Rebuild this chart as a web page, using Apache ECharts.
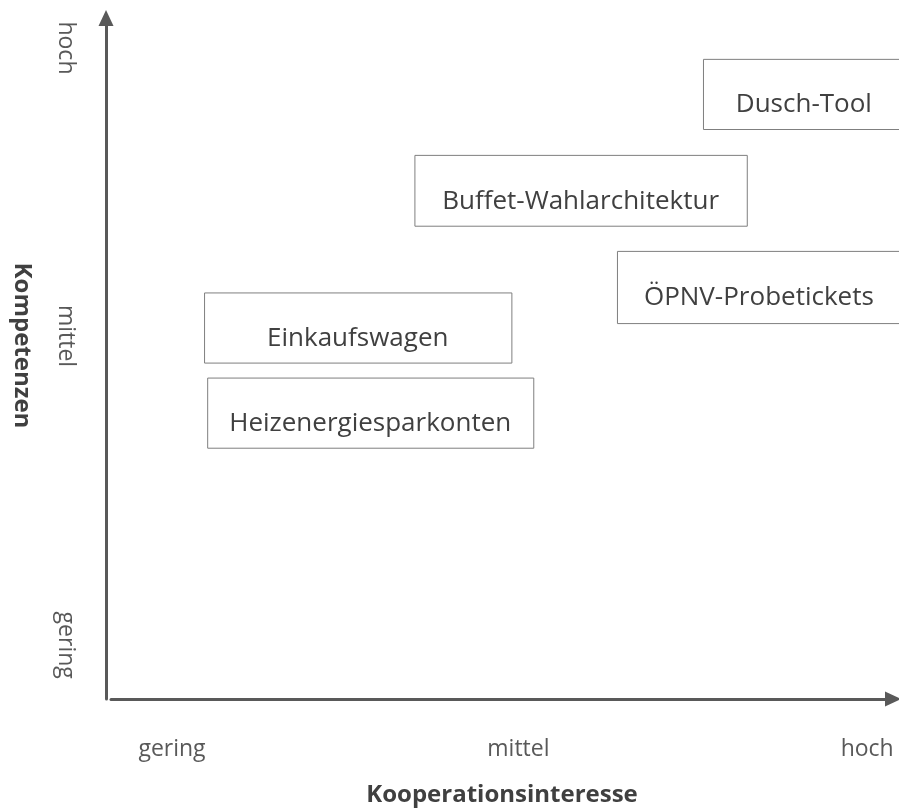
<!DOCTYPE html>
<html>
<head>
<meta charset="utf-8">
<script src="https://cdn.jsdelivr.net/npm/echarts@6/dist/echarts.min.js"></script>
<style>
  html, body { margin: 0; padding: 0; background: #fff; }
  #main { width: 899px; height: 812px; }
</style>
</head>
<body>
<div id="main"></div>
<script>
// measures (box labels) and where they sit in the matrix
const categories = ['Dusch-Tool', 'Buffet-Wahlarchitektur', 'ÖPNV-Probetickets', 'Einkaufswagen', 'Heizenergiesparkonten'];
const xStart = [75.7, 38.8, 64.7, 11.9, 12.3];
const xEnd = [101.5, 81.3, 101, 51.2, 54.0];
const yBottom = [83.7, 69.5, 55.2, 49.4, 36.9];
const yTop = [94.0, 79.9, 65.8, 59.7, 47.2];

// axis tick labels
const xTickLabels = ['gering', 'mittel', 'hoch'];
const xTickValues = [7.8, 52.1, 96.7];
const yTickLabels = ['gering', 'mittel', 'hoch'];
const yTickValues = [7.9, 53.3, 95.6];

let myChart = echarts.init(document.getElementById('main'));

let boxData = categories.map(function (name, i) {
  return [xStart[i], xEnd[i], yBottom[i], yTop[i], name];
});

let axisColor = '#595959';
let font = '"Open Sans", "DejaVu Sans", sans-serif';

let option = {
  animation: false,
  grid: { left: 111, right: 6, top: 18, bottom: 112 },
  xAxis: {
    type: 'value',
    min: 0,
    max: 100,
    name: 'Kooperationsinteresse',
    nameLocation: 'middle',
    nameGap: 84,
    nameTextStyle: { color: '#404040', fontFamily: font, fontSize: 24, fontWeight: 'bold' },
    axisLine: {
      show: true,
      onZero: false,
      symbol: ['none', 'triangle'],
      symbolSize: [15, 16],
      lineStyle: { color: axisColor, width: 3 }
    },
    axisTick: { show: false },
    splitLine: { show: false },
    axisLabel: {
      customValues: xTickValues,
      margin: 39,
      color: axisColor,
      fontFamily: font,
      fontSize: 23,
      formatter: function (v) {
        let i = xTickValues.indexOf(v);
        return i >= 0 ? xTickLabels[i] : '';
      }
    }
  },
  yAxis: {
    type: 'value',
    min: 0,
    max: 100,
    offset: 5,
    name: 'Kompetenzen',
    nameLocation: 'middle',
    nameGap: 72,
    nameRotate: -90,
    nameTextStyle: { color: '#404040', fontFamily: font, fontSize: 24, fontWeight: 'bold', padding: [0, 26, 0, 0] },
    axisLine: {
      show: true,
      onZero: false,
      symbol: ['none', 'triangle'],
      symbolSize: [15, 16],
      lineStyle: { color: axisColor, width: 3 }
    },
    axisTick: { show: false },
    splitLine: { show: false },
    axisLabel: {
      customValues: yTickValues,
      rotate: -90,
      margin: 29,
      color: axisColor,
      fontFamily: font,
      fontSize: 23,
      formatter: function (v) {
        let i = yTickValues.indexOf(v);
        return i >= 0 ? yTickLabels[i] : '';
      }
    }
  },
  series: [{
    type: 'custom',
    clip: false,
    data: boxData,
    renderItem: function (params, api) {
      let tl = api.coord([api.value(0), api.value(3)]);
      let br = api.coord([api.value(1), api.value(2)]);
      let name = boxData[params.dataIndex][4];
      return {
        type: 'group',
        children: [{
          type: 'rect',
          shape: { x: tl[0] + 0.5, y: tl[1] + 0.5, width: br[0] - tl[0], height: br[1] - tl[1] },
          style: { fill: '#fff', stroke: '#7f7f7f', lineWidth: 1 }
        }, {
          type: 'text',
          x: (tl[0] + br[0]) / 2,
          y: (tl[1] + br[1]) / 2 + 11,
          style: {
            text: name,
            fill: '#404040',
            font: '26px ' + font,
            align: 'center',
            verticalAlign: 'middle'
          }
        }]
      };
    }
  }]
};
myChart.setOption(option);
</script>
</body>
</html>
